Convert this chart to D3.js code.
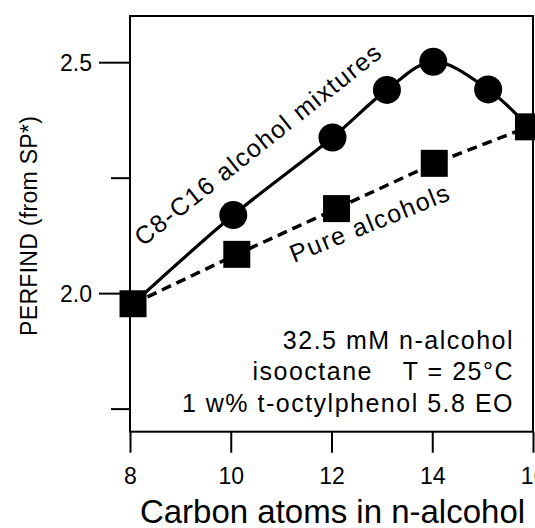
<!DOCTYPE html>
<html>
<head>
<meta charset="utf-8">
<script src="https://cdn.jsdelivr.net/npm/d3@7"></script>
<style>
  html, body { margin: 0; padding: 0; background: #fff; }
  svg { display: block; }
  text { font-family: "Liberation Sans", Arial, Helvetica, sans-serif; fill: #000; }
</style>
</head>
<body>
<svg id="chart" width="535" height="528"></svg>
<script>
// ---- data ----
const mixCarbon = [8.06, 10.05, 12.02, 13.10, 14.02, 15.11, 15.91];
const mixPerfind = [1.977, 2.169, 2.337, 2.440, 2.501, 2.441, 2.360];
const mixMarkerCarbon = [10.05, 12.02, 13.10, 14.02, 15.11];
const mixMarkerPerfind = [2.169, 2.337, 2.440, 2.501, 2.441];
const pureCarbon = [8.06, 10.12, 12.10, 14.04, 15.91];
const purePerfind = [1.977, 2.084, 2.183, 2.281, 2.360];
const xTicks = [8, 10, 12, 14, 16];
const yMajorTicks = [2.0, 2.5];
const yMinorTicks = [1.75, 2.25];
const xTitle = "Carbon atoms in n-alcohol";
const yTitle = "PERFIND (from SP*)";
const mixLabel = "C8-C16 alcohol mixtures";
const pureLabel = "Pure alcohols";
const noteLines = ["32.5 mM n-alcohol", "1 w% t-octylphenol 5.8 EO"];
const noteMid = ["isooctane", "T = 25°C"];

// ---- layout ----
const svg = d3.select("#chart");
const L = 130, R = 533, T = 16, B = 431.7;
const x = d3.scaleLinear().domain([8, 16]).range([L, R]);
const y = d3.scaleLinear().domain([1.7, 2.6]).range([B, T]);

// axes
const yMajor = svg.append("g").attr("transform", `translate(${L},0)`)
  .call(d3.axisLeft(y).tickValues(yMajorTicks).tickSize(31).tickPadding(7).tickFormat(d3.format(".1f")));
const yMinor = svg.append("g").attr("transform", `translate(${L},0)`)
  .call(d3.axisLeft(y).tickValues(yMinorTicks).tickSize(19).tickFormat(""));
const xAx = svg.append("g").attr("transform", `translate(0,${B})`)
  .call(d3.axisBottom(x).tickValues(xTicks).tickSize(21).tickPadding(15).tickFormat(d3.format("d")));
[yMajor, yMinor, xAx].forEach(g => {
  g.select(".domain").remove();
  g.selectAll(".tick line").attr("stroke", "#000").attr("stroke-width", 2);
  g.selectAll(".tick text").style("font-size", "23px").attr("fill", "#000");
});
yMajor.selectAll(".tick text").attr("dy", "0.36em");

// frame
svg.append("rect").attr("x", L).attr("y", T).attr("width", R - L).attr("height", B - T)
  .attr("fill", "none").attr("stroke", "#000").attr("stroke-width", 2);

// titles
svg.append("text").attr("x", (L + R) / 2 + 1).attr("y", 523).attr("text-anchor", "middle")
  .style("font-size", "33px").text(xTitle);
svg.append("text").attr("transform", `translate(37,${(T + B) / 2 + 2}) rotate(-90)`)
  .attr("text-anchor", "middle").style("font-size", "23px").style("letter-spacing", "0.3px").text(yTitle);

// lines
const mixPts = mixCarbon.map((c, i) => [c, mixPerfind[i]]);
const purePts = pureCarbon.map((c, i) => [c, purePerfind[i]]);
const lineMix = d3.line().x(d => x(d[0])).y(d => y(d[1])).curve(d3.curveCatmullRom.alpha(0.5));
const linePure = d3.line().x(d => x(d[0])).y(d => y(d[1]));
svg.append("path").attr("d", lineMix(mixPts)).attr("fill", "none").attr("stroke", "#000").attr("stroke-width", 3.2);
svg.append("path").attr("d", linePure(purePts)).attr("fill", "none").attr("stroke", "#000")
  .attr("stroke-width", 3.5).attr("stroke-dasharray", "10,6");

// markers
svg.append("g").selectAll("circle").data(mixMarkerCarbon).join("circle")
  .attr("cx", d => x(d)).attr("cy", (d, i) => y(mixMarkerPerfind[i])).attr("r", 14).attr("fill", "#000");
const sq = 27;
svg.append("g").selectAll("rect").data(pureCarbon).join("rect")
  .attr("x", d => x(d) - sq / 2).attr("y", (d, i) => y(purePerfind[i]) - sq / 2)
  .attr("width", sq).attr("height", sq).attr("fill", "#000");

// curve labels
svg.append("text").attr("transform", "translate(143,247) rotate(-38.5)")
  .style("font-size", "25px").style("letter-spacing", "1.5px").text(mixLabel);
svg.append("text").attr("transform", "translate(294,263) rotate(-22)")
  .style("font-size", "25px").style("letter-spacing", "1.5px").text(pureLabel);

// conditions note
const noteX = 514;
svg.append("text").attr("x", noteX).attr("y", 349).attr("text-anchor", "end")
  .style("font-size", "25px").style("letter-spacing", "1.5px").text(noteLines[0]);
svg.append("text").attr("x", 373).attr("y", 380).attr("text-anchor", "end")
  .style("font-size", "25px").style("letter-spacing", "1.5px").text(noteMid[0]);
svg.append("text").attr("x", noteX).attr("y", 380).attr("text-anchor", "end")
  .style("font-size", "25px").style("letter-spacing", "1.5px").text(noteMid[1]);
svg.append("text").attr("x", noteX).attr("y", 411.5).attr("text-anchor", "end")
  .style("font-size", "25px").style("letter-spacing", "1.5px").text(noteLines[1]);
</script>
</body>
</html>
